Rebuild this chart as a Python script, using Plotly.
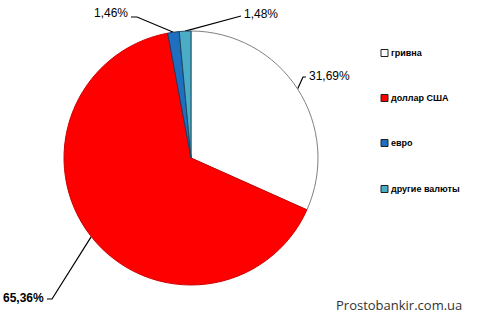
import math
import plotly.graph_objects as go

labels = ["гривна", "доллар США", "евро", "другие валюты"]
values = [31.69, 65.36, 1.46, 1.48]
value_texts = ["31,69%", "65,36%", "1,46%", "1,48%"]
colors = ["#FFFFFF", "#FF0000", "#1F6FC0", "#4BACC6"]
edge_colors = ["#808080", "#D00000", "#1F3A60", "#1F4A60"]

W, H = 493, 320
CX, CY, R = 191, 158, 127

# label layout: (elbow point, end point, text anchor, xanchor, bold)
label_layout = [
    ((303, 77), (306, 77), (307, 76), "left", False),
    ((52, 299), (47, 299), (46, 298), "right", True),
    ((137, 17), (131, 17), (130, 13), "right", False),
    ((237, 17), (241, 16), (242, 14), "left", False),
]

fig = go.Figure()

fig.add_trace(go.Pie(
    labels=labels, values=values, sort=False, direction="clockwise", rotation=0,
    marker=dict(colors=colors, line=dict(color=edge_colors, width=1)),
    textinfo="none", hoverinfo="label+percent", showlegend=False,
    domain=dict(x=[(CX - R) / W, (CX + R) / W], y=[(H - CY - R) / H, (H - CY + R) / H]),
))

total = sum(values)
cum = 0.0
for i, v in enumerate(values):
    mid = cum + v / 2
    cum += v
    ang = math.radians(90 - 360 * mid / total)
    ex = CX + R * math.cos(ang)
    ey = CY - R * math.sin(ang)
    (bx, by), (tx, ty), (ax, ay), xa, bold = label_layout[i]
    fig.add_trace(go.Scatter(
        x=[ex, bx, tx], y=[ey, by, ty], mode="lines",
        line=dict(color="#000000", width=1.2), hoverinfo="skip", showlegend=False,
    ))
    txt = value_texts[i]
    fig.add_annotation(
        x=ax, y=ay, xref="x", yref="y", text=f"<b>{txt}</b>" if bold else txt,
        showarrow=False, xanchor=xa, yanchor="middle",
        font=dict(family="Liberation Sans, Arial", size=12, color="#000000"),
    )

# manual legend
legend_y = [53, 98, 143, 189]
for i, lab in enumerate(labels):
    y = legend_y[i]
    fig.add_shape(type="rect", xref="x", yref="y", x0=381, x1=388, y0=y - 3.5, y1=y + 3.5,
                  fillcolor=colors[i], line=dict(color="#202020", width=1))
    fig.add_annotation(x=389, y=y, xref="x", yref="y", text=f"<b>{lab}</b>",
                       showarrow=False, xanchor="left", yanchor="middle",
                       font=dict(family="Liberation Sans, Arial", size=9, color="#000000"))

fig.add_annotation(x=464, y=305, xref="x", yref="y", text="Prostobankir.com.ua",
                   showarrow=False, xanchor="right", yanchor="middle",
                   font=dict(family="Open Sans", size=13, color="#333333"))

fig.update_xaxes(range=[0, W], visible=False, fixedrange=True)
fig.update_yaxes(range=[H, 0], visible=False, fixedrange=True)
fig.update_layout(
    width=W, height=H, margin=dict(l=0, r=0, t=0, b=0),
    paper_bgcolor="#FFFFFF", plot_bgcolor="rgba(0,0,0,0)", showlegend=False,
)

fig.write_html("out.html")
